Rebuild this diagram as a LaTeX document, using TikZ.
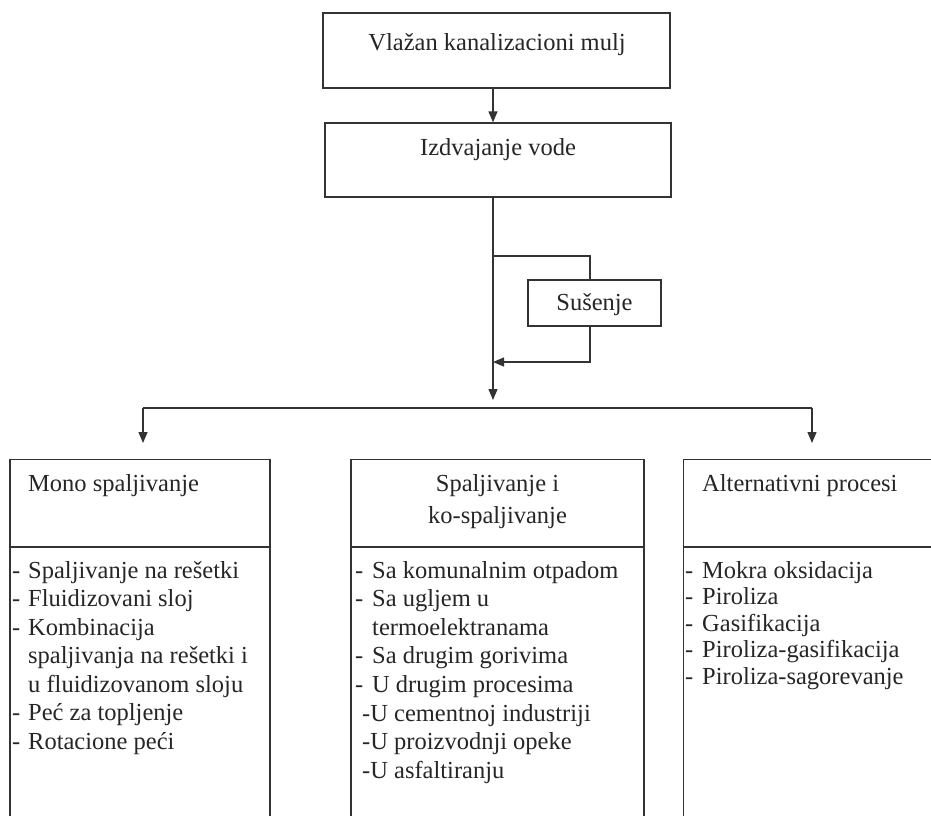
\documentclass[tikz,border=0pt]{standalone}
\usepackage{fontspec}
\setmainfont{Liberation Serif}
\usetikzlibrary{arrows.meta}
\begin{document}
\begin{tikzpicture}[x=1pt,y=1pt,
  ln/.style={draw=black!80, line width=1.3pt},
  arr/.style={ln, -{Triangle[width=9pt,length=11pt]}},
  box/.style={ln, rectangle, inner sep=0pt},
  txt/.style={inner sep=0pt, text=black!85, font=\fontsize{24.5}{28.5}\selectfont},
]
\useasboundingbox (0,0) rectangle (931,-815);
\fill[white] (0,0) rectangle (931,-815);
\clip (0,0) rectangle (931,-815);
% top boxes
\node[box, minimum width=347pt, minimum height=75pt] (vl) at (496.5,-50.5) {};
\node[txt, anchor=base] (vlt) at (497,-50) {Vlažan kanalizacioni mulj};
\node[box, minimum width=346pt, minimum height=74pt] (iz) at (498,-160) {};
\node[txt, anchor=base] (izt) at (498,-155) {Izdvajanje vode};
\coordinate (trunk) at (493,0);
\draw[arr] (vl.south -| trunk) -- (iz.north -| trunk);
% drying loop
\node[box, minimum width=133pt, minimum height=46pt] (su) at (594.5,-303) {};
\node[txt, anchor=base] (sut) at (594.5,-310) {Sušenje};
\coordinate (b1) at (493,-256);
\coordinate (b2) at (590,-256);
\coordinate (r1) at (590,-362);
\coordinate (r2) at (493,-362);
\draw[ln] (b1) -- (b2) -- (b2 |- su.north);
\draw[arr] (su.south -| b2) -- (r1) -- (r2);
\coordinate (mainend) at (493,-400);
\draw[arr] (iz.south -| trunk) -- (mainend);
% distribution line
\coordinate (hl) at (143,-408);
\coordinate (hr) at (812,-408);
\coordinate (al) at (143,-443);
\coordinate (ar) at (812,-443);
\draw[ln] (hl) -- (hr);
\draw[arr] (hl) -- (al);
\draw[arr] (hr) -- (ar);
% bottom boxes (open at the bottom)
\node[box, minimum width=260pt, minimum height=380pt, anchor=north] (mono) at (140,-459) {};
\node[box, minimum width=293pt, minimum height=380pt, anchor=north] (ko) at (497.5,-459) {};
\node[box, minimum width=290pt, minimum height=380pt, anchor=north west] (alt) at (683,-459) {};
\draw[ln] (mono.west |- 0,-547) -- (mono.east |- 0,-547);
\draw[ln] (ko.west |- 0,-547) -- (ko.east |- 0,-547);
\draw[ln] (alt.west |- 0,-547) -- (alt.east |- 0,-547);
% titles
\node[txt, anchor=base west] (monot) at (28,-491) {Mono spaljivanje};
\node[txt, anchor=base] (kot1) at (497.5,-491) {Spaljivanje i};
\node[txt, anchor=base] (kot2) at (497.5,-523) {ko-spaljivanje};
\node[txt, anchor=base west] (altt) at (702,-491) {Alternativni procesi};
% lists
\foreach \t [count=\i] in {
  {\makebox[16pt][l]{-}Spaljivanje na rešetki},
  {\makebox[16pt][l]{-}Fluidizovani sloj},
  {\makebox[16pt][l]{-}Kombinacija},
  {\makebox[16pt][l]{}spaljivanja na rešetki i},
  {\makebox[16pt][l]{}u fluidizovanom sloju},
  {\makebox[16pt][l]{-}Peć za topljenje},
  {\makebox[16pt][l]{-}Rotacione peći}}
  \node[txt, anchor=base west] (m\i) at (12,{-578-28.5*(\i-1)}) {\t};
\foreach \t [count=\i] in {
  {\makebox[17pt][l]{-}Sa komunalnim otpadom},
  {\makebox[17pt][l]{-}Sa ugljem u},
  {\makebox[17pt][l]{}termoelektranama},
  {\makebox[17pt][l]{-}Sa drugim gorivima},
  {\makebox[17pt][l]{-}U drugim procesima},
  {\makebox[7pt][l]{}-U cementnoj industriji},
  {\makebox[7pt][l]{}-U proizvodnji opeke},
  {\makebox[7pt][l]{}-U asfaltiranju}}
  \node[txt, anchor=base west] (k\i) at (355,{-578-28.6*(\i-1)}) {\t};
\foreach \t [count=\i] in {
  {\makebox[17pt][l]{-}Mokra oksidacija},
  {\makebox[17pt][l]{-}Piroliza},
  {\makebox[17pt][l]{-}Gasifikacija},
  {\makebox[17pt][l]{-}Piroliza-gasifikacija},
  {\makebox[17pt][l]{-}Piroliza-sagorevanje}}
  \node[txt, anchor=base west] (a\i) at (685,{-578-26.6*(\i-1)}) {\t};
\end{tikzpicture}
\end{document}
